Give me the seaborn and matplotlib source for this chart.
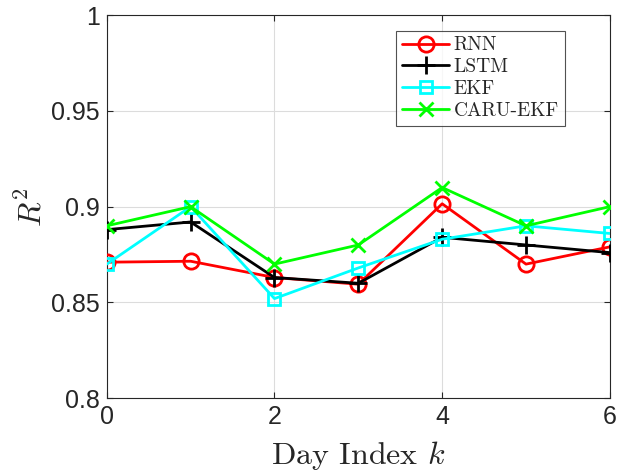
import matplotlib
matplotlib.use("Agg")
import matplotlib.pyplot as plt
import seaborn as sns
import pandas as pd

days = [0, 1, 2, 3, 4, 5, 6]
rnn = [0.871, 0.8715, 0.863, 0.8595, 0.9015, 0.870, 0.879]
lstm = [0.888, 0.892, 0.863, 0.860, 0.884, 0.880, 0.876]
ekf = [0.870, 0.900, 0.852, 0.868, 0.883, 0.890, 0.886]
caru = [0.890, 0.900, 0.870, 0.880, 0.910, 0.890, 0.900]
names = ["RNN", "LSTM", "EKF", "CARU-EKF"]
series = [rnn, lstm, ekf, caru]
colors = ["#ff0000", "#000000", "#00ffff", "#00ff00"]
markers = ["o", "+", "s", "x"]
msizes = [11, 13, 9, 10]
yticks = [0.8, 0.85, 0.9, 0.95, 1.0]
yticklabels = ["0.8", "0.85", "0.9", "0.95", "1"]

sns.set_style("white")
plt.rcParams["mathtext.fontset"] = "cm"
plt.rcParams["font.family"] = ["Liberation Sans", "DejaVu Sans"]

fig = plt.figure(figsize=(6.21, 4.74), dpi=100)
ax = fig.add_axes([0.172, 0.160, 0.810, 0.808])

for name, vals, c, m, ms in zip(names, series, colors, markers, msizes):
    df = pd.DataFrame({"day": days, "r2": vals})
    sns.lineplot(data=df, x="day", y="r2", ax=ax, color=c, marker=m,
                 markersize=ms, markerfacecolor="none", markeredgecolor=c,
                 markeredgewidth=2, linewidth=2, label=name, zorder=3)

ax.set_xlim(0, 6)
ax.set_ylim(0.8, 1.0)
ax.set_xticks(days[::2])
ax.set_xticklabels([str(d) for d in days[::2]])
ax.set_yticks(yticks)
ax.set_yticklabels(yticklabels)
ax.grid(True, color="#dcdcdc", linewidth=0.8)
ax.set_axisbelow(True)
for s in ax.spines.values():
    s.set_color("#262626")
    s.set_linewidth(0.8)
ax.tick_params(direction="in", length=4, labelsize=18, colors="#262626",
               top=True, right=True, bottom=True, left=True, pad=5)
ax.set_xlabel("Day Index $k$", fontsize=23, family="cmr10", color="#262626", labelpad=7)
ax.set_ylabel("$R^2$", fontsize=23, color="#262626", labelpad=2)

leg = ax.legend(loc="upper right", bbox_to_anchor=(0.922, 0.975), frameon=True,
                fancybox=False, edgecolor="#262626", handlelength=2.4,
                prop={"family": "cmr10", "size": 14}, borderpad=0.3,
                labelspacing=0.2, handletextpad=0.25, borderaxespad=0.3)
leg.get_frame().set_linewidth(0.8)

fig.savefig("out.png", dpi=100)
